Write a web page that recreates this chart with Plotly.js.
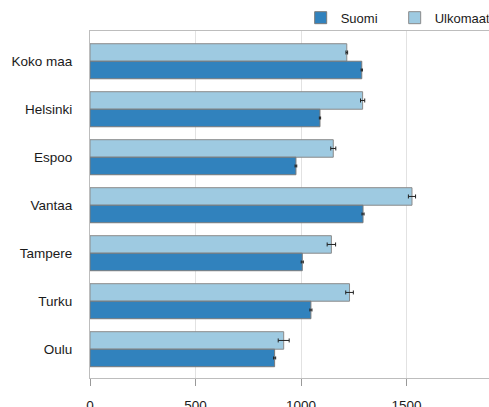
<!DOCTYPE html>
<html>
<head>
<meta charset="utf-8">
<script src="https://cdn.plot.ly/plotly-3.0.1.min.js"></script>
<style>html,body{margin:0;padding:0;background:#fff;}</style>
</head>
<body>
<div id="chart" style="width:489px;height:407px;"></div>
<script>
const categories = ["Koko maa", "Helsinki", "Espoo", "Vantaa", "Tampere", "Turku", "Oulu"];
const suomi = [1288, 1090, 976, 1294, 1006, 1047, 875];
const suomiErr = [3, 3, 4, 5, 5, 5, 5];
const ulkomaat = [1217, 1292, 1153, 1526, 1144, 1230, 918];
const ulkomaatErr = [4, 10, 12, 17, 20, 18, 26];

const font = {family: "Liberation Sans, Arial, sans-serif", size: 13.5, color: "#1a1a1a"};
const legendFont = {family: "Liberation Sans, Arial, sans-serif", size: 13, color: "#1a1a1a"};

const traces = [
  {
    type: "bar", orientation: "h", name: "Ulkomaat",
    y: categories, x: ulkomaat,
    marker: {color: "#9ecae1", line: {color: "#8a8a8a", width: 1}},
    error_x: {type: "data", array: ulkomaatErr, visible: true, color: "#222", thickness: 1, width: 2},
    legendrank: 2, hoverinfo: "x"
  },
  {
    type: "bar", orientation: "h", name: "Suomi",
    y: categories, x: suomi,
    marker: {color: "#3182bd", line: {color: "#7a7a7a", width: 1}},
    error_x: {type: "data", array: suomiErr, visible: true, color: "#222", thickness: 1, width: 1.5},
    legendrank: 1, hoverinfo: "x"
  }
];

const layout = {
  width: 489, height: 407,
  margin: {l: 90, r: 0, t: 31, b: 29, pad: 0},
  paper_bgcolor: "#fff", plot_bgcolor: "#fff",
  font: font,
  barmode: "group",
  bargap: 0.27, bargroupgap: 0,
  showlegend: true,
  legend: {orientation: "h", x: 0.528, xanchor: "left", y: 0.995, yanchor: "bottom",
           entrywidth: 49, entrywidthmode: "pixels",
           font: legendFont, bgcolor: "rgba(0,0,0,0)", traceorder: "normal"},
  xaxis: {
    range: [0, 1891], showgrid: true, gridcolor: "#e2e2e2", gridwidth: 1,
    zeroline: false, showline: true, mirror: true, linecolor: "#bdbdbd", linewidth: 1,
    ticks: "outside", ticklen: 7, tickcolor: "#999", tickvals: [0, 500, 1000, 1500],
    ticklabelstandoff: 8, tickfont: font, fixedrange: true
  },
  yaxis: {
    type: "category", range: [6.6, -0.63],
    showgrid: false, zeroline: false, showline: true, linecolor: "#bdbdbd", linewidth: 1,
    ticks: "", ticklabelstandoff: 14, tickfont: font, fixedrange: true
  }
};

Plotly.newPlot("chart", traces, layout, {displayModeBar: false, staticPlot: true});
</script>
</body>
</html>
